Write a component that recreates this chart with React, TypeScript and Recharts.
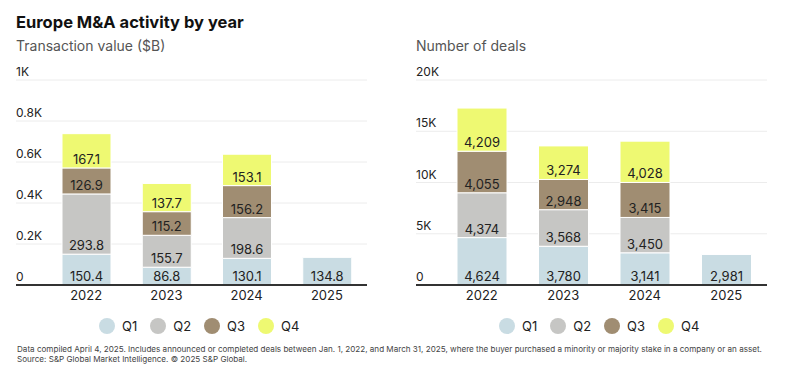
import React from "react";
import {
  BarChart,
  Bar,
  XAxis,
  YAxis,
  CartesianGrid,
  LabelList,
  Legend,
} from "recharts";

const years = ["2022", "2023", "2024", "2025"];
const quarters = ["Q1", "Q2", "Q3", "Q4"];

// transaction value, $B
const valueQ1 = [150.4, 86.8, 130.1, 134.8];
const valueQ2 = [293.8, 155.7, 198.6, null];
const valueQ3 = [126.9, 115.2, 156.2, null];
const valueQ4 = [167.1, 137.7, 153.1, null];
const valueTicks = [0, 200, 400, 600, 800, 1000];

// number of deals
const dealsQ1 = [4624, 3780, 3141, 2981];
const dealsQ2 = [4374, 3568, 3450, null];
const dealsQ3 = [4055, 2948, 3415, null];
const dealsQ4 = [4209, 3274, 4028, null];
const dealTicks = [0, 5000, 10000, 15000, 20000];

const colors = ["#c9dce3", "#c6c6c4", "#a08d72", "#eef972"];
const FONT = "Inter, 'Noto Sans', sans-serif";

const buildRows = (q1, q2, q3, q4) =>
  years.map((year, i) => ({ year, Q1: q1[i], Q2: q2[i], Q3: q3[i], Q4: q4[i] }));

const valueRows = buildRows(valueQ1, valueQ2, valueQ3, valueQ4);
const dealRows = buildRows(dealsQ1, dealsQ2, dealsQ3, dealsQ4);

const kFormat = (v: number) => (v === 0 ? "0" : `${v / 1000}K`);

const renderYTick = (props: any) => (
  <text
    key={props.payload.value}
    x={16}
    y={props.y - 4}
    fill="#222"
    fontSize={12}
    fontFamily={FONT}
  >
    {kFormat(props.payload.value)}
  </text>
);

const QuarterLegend = () => (
  <div
    style={{
      display: "flex",
      alignItems: "center",
      fontSize: 13,
      color: "#222",
      fontFamily: FONT,
    }}
  >
    {quarters.map((q, i) => (
      <div
        key={q}
        style={{ display: "flex", alignItems: "center", marginRight: 13 }}
      >
        <span
          style={{
            width: 16,
            height: 16,
            borderRadius: 8,
            background: colors[i],
            marginRight: 7,
          }}
        />
        {q}
      </div>
    ))}
  </div>
);

function StackedChart({
  data,
  ticks,
  labelFormat,
  leftPad,
  barSize,
}: {
  data: any[];
  ticks: number[];
  labelFormat: (v: any) => string;
  leftPad: number;
  barSize: number;
}) {
  return (
    <BarChart
      width={400}
      height={340}
      data={data}
      margin={{ top: 80, right: 33, left: 15, bottom: 25 }}
    >
      <CartesianGrid vertical={false} stroke="#ececec" />
      <XAxis
        dataKey="year"
        height={30}
        padding={{ left: leftPad, right: 0 }}
        axisLine={{ stroke: "#333", strokeWidth: 2 }}
        tickLine={false}
        tickMargin={0}
        tick={{ fill: "#222", fontSize: 13, fontFamily: FONT }}
      />
      <YAxis
        width={1}
        domain={[0, ticks[ticks.length - 1]]}
        ticks={ticks}
        interval={0}
        axisLine={false}
        tickLine={false}
        tick={renderYTick}
      />
      <Legend
        layout="horizontal"
        verticalAlign="middle"
        align="center"
        content={<QuarterLegend />}
        wrapperStyle={{ left: 99, top: 318, width: 260 }}
      />
      {quarters.map((q, i) => (
        <Bar
          key={q}
          dataKey={q}
          stackId="a"
          fill={colors[i]}
          stroke="#fff"
          strokeWidth={1}
          barSize={barSize}
          isAnimationActive={false}
        >
          <LabelList
            dataKey={q}
            position="insideBottom"
            offset={4}
            fill="#222"
            fontSize={13}
            fontFamily={FONT}
            formatter={labelFormat}
          />
        </Bar>
      ))}
    </BarChart>
  );
}

export default function App() {
  return (
    <div
      style={{
        position: "absolute",
        left: 0,
        top: 0,
        width: 802,
        height: 385,
        background: "#fff",
        fontFamily: FONT,
        overflow: "hidden",
      }}
    >
      <div
        style={{
          position: "absolute",
          left: 16,
          top: 12,
          fontSize: 16.5,
          fontWeight: 700,
          color: "#111",
        }}
      >
        Europe M&amp;A activity by year
      </div>
      <div
        style={{
          position: "absolute",
          left: 16,
          top: 37,
          fontSize: 14,
          color: "#555",
        }}
      >
        Transaction value ($B)
      </div>
      <div
        style={{
          position: "absolute",
          left: 416,
          top: 37,
          fontSize: 14,
          color: "#555",
        }}
      >
        Number of deals
      </div>
      <div style={{ position: "absolute", left: 0, top: 0 }}>
        <StackedChart
          data={valueRows}
          ticks={valueTicks}
          labelFormat={(v) => (v == null ? "" : Number(v).toFixed(1))}
          leftPad={30}
          barSize={49}
        />
      </div>
      <div style={{ position: "absolute", left: 400, top: 0 }}>
        <StackedChart
          data={dealRows}
          ticks={dealTicks}
          labelFormat={(v) => (v == null ? "" : Number(v).toLocaleString("en-US"))}
          leftPad={25}
          barSize={50}
        />
      </div>
      <div
        style={{
          position: "absolute",
          left: 17,
          top: 345,
          fontSize: 8.1,
          lineHeight: "9.5px",
          color: "#444",
        }}
      >
        Data compiled April 4, 2025. Includes announced or completed deals between
        Jan. 1, 2022, and March 31, 2025, where the buyer purchased a minority or
        majority stake in a company or an asset.
        <br />
        Source: S&amp;P Global Market Intelligence. © 2025 S&amp;P Global.
      </div>
    </div>
  );
}
